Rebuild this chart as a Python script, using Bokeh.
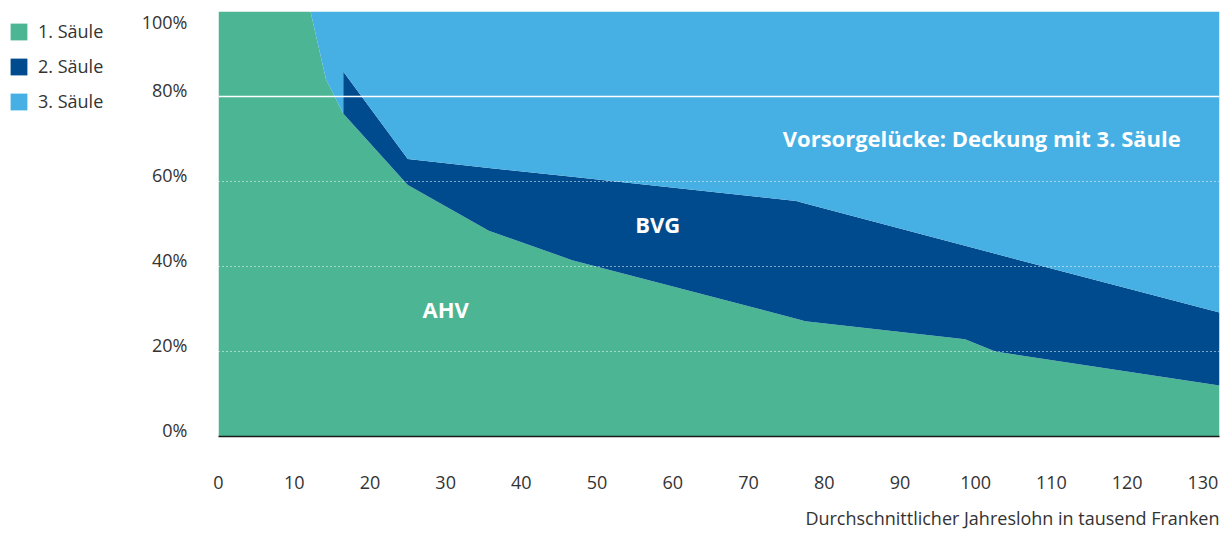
from bokeh.plotting import figure
from bokeh.layouts import row
from bokeh.models import (ColumnDataSource, Span, Title, LabelSet, Legend, LegendItem,
                          FixedTicker, Range1d)
from bokeh.embed import file_html
from bokeh.resources import INLINE
from bokeh.core.properties import value

# ---- data ----
salary = [0, 12.15, 14.2, 16.47, 16.47, 25.0, 35.7, 46.7, 76.3, 77.5, 98.6, 102.6, 132.2]
ahv    = [100, 100, 84.0, 76.0, 76.0, 59.2, 48.4, 41.5, 27.7, 27.1, 22.9, 20.0, 12.0]
bvg    = [0, 0, 0, 0, 9.9, 6.1, 14.8, 19.6, 27.7, 27.7, 22.0, 23.0, 17.2]

series_names = ["1. Säule", "2. Säule", "3. Säule"]
area_labels = ["AHV", "BVG", "Vorsorgelücke: Deckung mit 3. Säule"]
area_label_x = [30.0, 58.0, 100.8]
area_label_y = [30.0, 50.0, 70.2]

x_ticks = [0, 10, 20, 30, 40, 50, 60, 70, 80, 90, 100, 110, 120, 130]
y_ticks = [0, 20, 40, 60, 80, 100]
y_tick_labels = ["0%", "20%", "40%", "60%", "80%", "100%"]
x_title = "Durchschnittlicher Jahreslohn in tausend Franken"

GREEN = "#4bb594"
DARK = "#004b8d"
LIGHT = "#46afe4"
COLORS = [GREEN, DARK, LIGHT]
TXT = "#333333"
FONT = "Open Sans"

LEG_W = 130

stack1 = ahv
stack2 = [a + b for a, b in zip(ahv, bvg)]
top = [100] * len(salary)
src = ColumnDataSource(dict(x=salary, zero=[0] * len(salary), s1=stack1, s2=stack2, top=top))
bounds = [("zero", "s1"), ("s1", "s2"), ("s2", "top")]

p = figure(width=1220 - LEG_W, height=542, output_backend="svg", toolbar_location=None,
           x_range=Range1d(0, 132.2), y_range=Range1d(0, 100),
           min_border_left=218 - LEG_W, min_border_right=1,
           min_border_top=11, min_border_bottom=105)
p.outline_line_color = None
p.xgrid.visible = False
p.ygrid.visible = False
p.background_fill_color = "white"

for (lo, hi), col in zip(bounds, COLORS):
    p.varea(x="x", y1=lo, y2=hi, source=src, fill_color=col)

# grid lines
for t in y_ticks[1:-1]:
    if t == 80:
        p.add_layout(Span(location=t, dimension="width", line_color="white", line_width=1.5))
    else:
        p.add_layout(Span(location=t, dimension="width", line_color="white", line_width=1,
                          line_dash="1 3"))

# x axis
ax = p.xaxis[0]
ax.ticker = FixedTicker(ticks=x_ticks)
ax.axis_line_color = "#1a1a1a"
ax.axis_line_width = 1.5
ax.major_tick_line_color = None
ax.minor_tick_line_color = None
ax.major_label_text_font = FONT
ax.major_label_text_font_size = "18px"
ax.major_label_text_color = TXT
ax.major_label_standoff = 33

# axis title, right aligned under the plot
p.add_layout(Title(text=x_title, align="right", text_font=FONT,
                   text_font_size="18px", text_font_style="normal", text_color=TXT,
                   standoff=25), "below")

# y axis: labels sit just above their grid line (the top one just below the frame top)
label_shift = [1.5, 1.5, 1.5, 1.5, 1.5, -2.5]
y_label_pos = [t + s for t, s in zip(y_ticks, label_shift)]
ay = p.yaxis[0]
ay.ticker = FixedTicker(ticks=y_label_pos)
ay.major_label_overrides = {pos: lab for pos, lab in zip(y_label_pos, y_tick_labels)}
ay.axis_line_color = None
ay.major_tick_line_color = None
ay.minor_tick_line_color = None
ay.major_label_text_font = FONT
ay.major_label_text_font_size = "18px"
ay.major_label_text_color = TXT
ay.major_label_standoff = 25

# area labels
asrc = ColumnDataSource(dict(x=area_label_x, y=area_label_y, text=area_labels))
p.add_layout(LabelSet(x="x", y="y", text="text", source=asrc, text_align="center",
                      text_baseline="middle", text_font=value(FONT), text_font_size="22px",
                      text_font_style="bold", text_color="white"))

# ---- legend panel on the left (same series, drawn outside its visible range) ----
pl = figure(width=LEG_W, height=542, output_backend="svg", toolbar_location=None,
            title=None, x_range=Range1d(-2, -1), y_range=Range1d(0, 100),
            x_axis_location=None, y_axis_location=None,
            min_border=0, min_border_left=0, min_border_right=0,
            min_border_top=0, min_border_bottom=0)
pl.outline_line_color = None
for g in pl.grid:
    g.visible = False
items = []
for name, (lo, hi), col in zip(series_names, bounds, COLORS):
    rr = pl.varea(x="x", y1=lo, y2=hi, source=src, fill_color=col)
    items.append(LegendItem(label=name, renderers=[rr]))
legend = Legend(items=items, location="top_left", orientation="vertical",
                glyph_width=21, glyph_height=21, label_height=17, spacing=11,
                label_standoff=9, padding=0, margin=8,
                border_line_color=None, background_fill_alpha=0,
                label_text_font=FONT, label_text_font_size="18px",
                label_text_color=TXT)
pl.add_layout(legend)

layout = row(pl, p)
open("out.html", "w").write(file_html(layout, INLINE))
